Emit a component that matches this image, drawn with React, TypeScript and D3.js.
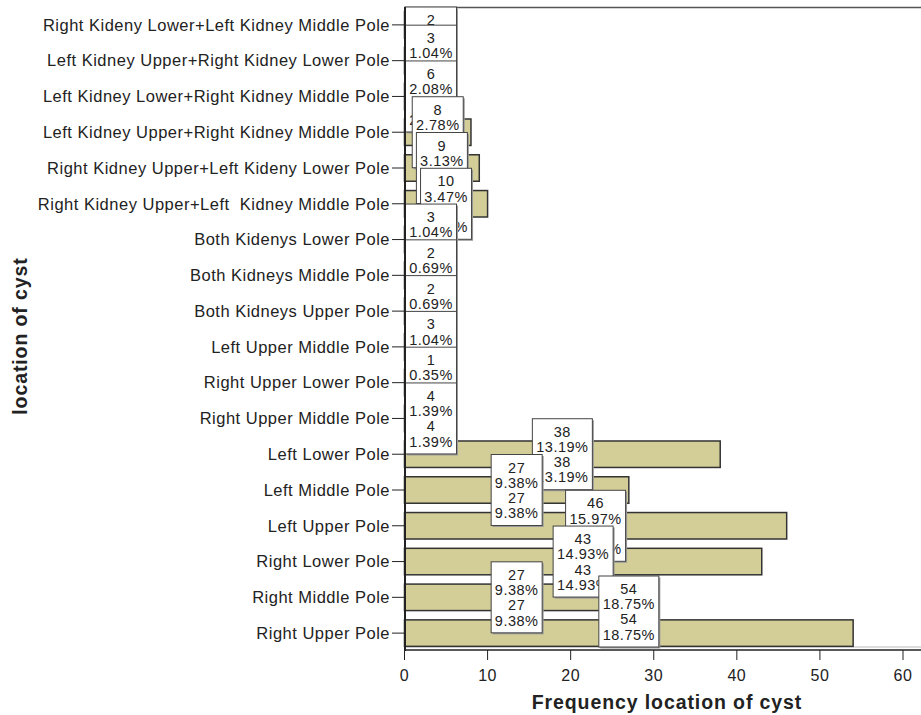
import React from "react";
import * as d3 from "d3";

const categories = [
  "Right Kideny Lower+Left Kidney Middle Pole",
  "Left Kidney Upper+Right Kidney Lower Pole",
  "Left Kidney Lower+Right Kidney Middle Pole",
  "Left Kidney Upper+Right Kidney Middle Pole",
  "Right Kidney Upper+Left Kideny Lower Pole",
  "Right Kidney Upper+Left  Kidney Middle Pole",
  "Both Kidenys Lower Pole",
  "Both Kidneys Middle Pole",
  "Both Kidneys Upper Pole",
  "Left Upper Middle Pole",
  "Right Upper Lower Pole",
  "Right Upper Middle Pole",
  "Left Lower Pole",
  "Left Middle Pole",
  "Left Upper Pole",
  "Right Lower Pole",
  "Right Middle Pole",
  "Right Upper Pole",
];
const counts = [2, 3, 6, 8, 9, 10, 3, 2, 2, 3, 1, 4, 38, 27, 46, 43, 27, 54];
const percents = [
  "0.69%", "1.04%", "2.08%", "2.78%", "3.13%", "3.47%", "1.04%", "0.69%", "0.69%",
  "1.04%", "0.35%", "1.39%", "13.19%", "9.38%", "15.97%", "14.93%", "9.38%", "18.75%",
];
const xTicks = [0, 10, 20, 30, 40, 50, 60];

const FONT = "'Liberation Sans', Arial, sans-serif";

export default function App() {
  const W = 921, H = 715;
  const top = 7, bottom = 651;
  const x = d3.scaleLinear().domain([0, 60]).range([404.5, 903]);
  const y = d3.scaleBand<string>().domain(categories).range([top, bottom]).paddingInner(0.26).paddingOuter(0.13);
  const boxH = 71;

  const data = categories.map((c, i) => ({ c, n: counts[i], p: percents[i] }));

  return (
    <svg width={W} height={H} style={{ position: "absolute", left: 0, top: 0, background: "#fff" }} fontFamily={FONT}>
      {/* frame */}
      <line x1={404} x2={W} y1={top + 0.5} y2={top + 0.5} stroke="#555" strokeWidth={1.5} />
      <line x1={404} x2={W} y1={647} y2={647} stroke="#bbb" strokeWidth={1} />
      {/* bars */}
      {data.map((d) => (
        <rect key={"b" + d.c} x={x(0)} y={y(d.c)!} width={x(d.n) - x(0)} height={y.bandwidth()}
          fill="#D3CE97" stroke="#333" strokeWidth={1.5} />
      ))}
      {/* label boxes */}
      {data.map((d) => {
        const cy = y(d.c)! + y.bandwidth() / 2;
        const w = d.p.length >= 6 ? 60 : 51;
        const cx = x(d.n / 2);
        const left = Math.max(405.5, cx - w / 2);
        const tp = Math.min(647 - boxH, Math.max(top, cy - boxH / 2));
        const mid = left + w / 2;
        const lines = [String(d.n), d.p, String(d.n), d.p];
        return (
          <g key={"l" + d.c}>
            <rect x={left + 1.5} y={tp + 1.5} width={w} height={boxH} fill="#999" />
            <rect x={left} y={tp} width={w} height={boxH} fill="#fff" stroke="#444" strokeWidth={1} />
            {lines.map((t, k) => (
              <text key={k} x={mid} y={tp + 13 + k * 15.2} dy="0.35em" textAnchor="middle" fontSize={14.5} letterSpacing={0.5} fill="#222">{t}</text>
            ))}
          </g>
        );
      })}
      {/* y axis */}
      <line x1={405} x2={405} y1={top} y2={651} stroke="#222" strokeWidth={2} />
      {data.map((d) => {
        const cy = y(d.c)! + y.bandwidth() / 2;
        return (
          <g key={"t" + d.c}>
            <line x1={392} x2={404} y1={cy} y2={cy} stroke="#222" strokeWidth={1} />
            <text x={390} y={cy} dy="0.35em" textAnchor="end" fontSize={16.5} letterSpacing={0.5} fill="#222" style={{ whiteSpace: "pre" }}>{d.c}</text>
          </g>
        );
      })}
      {/* x axis */}
      <line x1={404} x2={W} y1={650} y2={650} stroke="#222" strokeWidth={1.5} />
      {xTicks.map((t) => (
        <g key={"x" + t}>
          <line x1={x(t)} x2={x(t)} y1={650} y2={660} stroke="#222" strokeWidth={1} />
          <text x={x(t)} y={675} dy="0.35em" textAnchor="middle" fontSize={16} letterSpacing={0.5} fill="#222">{t}</text>
        </g>
      ))}
      <text x={667} y={702} dy="0.35em" textAnchor="middle" fontSize={19.5} letterSpacing={0.9} fontWeight="bold" fill="#222">Frequency location of cyst</text>
      <text transform="translate(20,336) rotate(-90)" dy="0.35em" textAnchor="middle" fontSize={19.5} letterSpacing={0.9} fontWeight="bold" fill="#222">location of cyst</text>
    </svg>
  );
}
